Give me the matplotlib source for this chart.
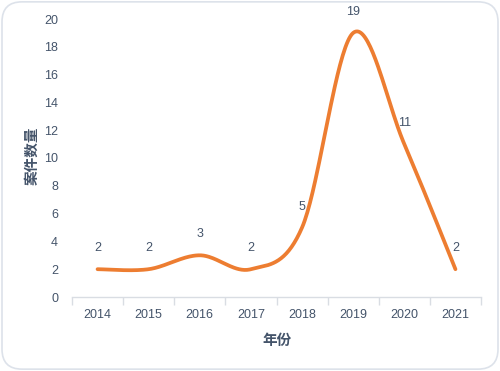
import numpy as np
import matplotlib
matplotlib.use("Agg")
import matplotlib.pyplot as plt
from matplotlib.patches import FancyBboxPatch

years = ["2014", "2015", "2016", "2017", "2018", "2019", "2020", "2021"]
counts = [2, 2, 3, 2, 5, 19, 11, 2]
y_ticks = [0, 2, 4, 6, 8, 10, 12, 14, 16, 18, 20]

TXT = "#44546A"
LINE = "#ED7D31"
AX = "#D9DDE3"

plt.rcParams['font.family'] = ['Liberation Sans', 'Noto Sans CJK SC']

fig = plt.figure(figsize=(5.0, 3.71), dpi=100)
fig.patches.append(FancyBboxPatch((0.004, 0.005), 0.992, 0.99, boxstyle="round,pad=0,rounding_size=0.04",
                                  transform=fig.transFigure, facecolor="white", edgecolor="#DDE2EA", lw=1.2,
                                  mutation_aspect=500/371, zorder=-10))
W, H = 500, 371
ax = fig.add_axes([72/W, 1-297/H, (481-72)/W, (297-19)/H])
ax.set_facecolor("none")

x = np.arange(len(years))
y = np.array(counts, dtype=float)

# Excel-style smoothing (Catmull-Rom Bezier) for drawing
px = np.concatenate([[x[0]], x, [x[-1]]]).astype(float)
py = np.concatenate([[y[0]], y, [y[-1]]])
cx, cy = [], []
t = np.linspace(0, 1, 40)
for i in range(1, len(px) - 2):
    p0 = np.array([px[i], py[i]])
    p3 = np.array([px[i+1], py[i+1]])
    p1 = p0 + (np.array([px[i+1], py[i+1]]) - np.array([px[i-1], py[i-1]])) / 6
    p2 = p3 - (np.array([px[i+2], py[i+2]]) - np.array([px[i], py[i]])) / 6
    b = ((1-t)**3)[:, None]*p0 + (3*(1-t)**2*t)[:, None]*p1 + (3*(1-t)*t**2)[:, None]*p2 + (t**3)[:, None]*p3
    cx.extend(b[:, 0]); cy.extend(b[:, 1])
ax.plot(cx, cy, color=LINE, lw=2.7, solid_capstyle="round", clip_on=False)

for xi, yi in zip(x, counts):
    ax.annotate(str(yi), (xi, yi), xytext=(0, 15), textcoords="offset points",
                ha="center", va="center", fontsize=9, color=TXT)

ax.set_xlim(-0.5, len(years) - 0.5)
ax.set_ylim(0, 20)
ax.set_yticks(y_ticks)
ax.set_xticks(np.arange(len(years) + 1) - 0.5)
ax.set_xticklabels([])
ax.set_xticks(x, minor=True)
ax.set_xticklabels(years, minor=True)
ax.tick_params(axis="x", which="major", length=6, color=AX, width=1)
ax.tick_params(axis="x", which="minor", length=0, pad=9, labelsize=9, labelcolor=TXT)
ax.tick_params(axis="y", length=0, pad=10, labelsize=9, labelcolor=TXT)
for s in ["top", "right", "left"]:
    ax.spines[s].set_visible(False)
ax.spines["bottom"].set_color(AX)
ax.spines["bottom"].set_linewidth(1)

fig.text(31/W, 1-156/H, "案件数量", rotation=90, ha="center", va="center", fontsize=10.5,
         fontweight="bold", color=TXT, family=['Noto Sans CJK SC', 'DejaVu Sans'])
fig.text(277/W, 1-340/H, "年份", ha="center", va="center", fontsize=10.5,
         fontweight="bold", color=TXT, family=['Noto Sans CJK SC', 'DejaVu Sans'])

fig.savefig("out.png", dpi=100)
